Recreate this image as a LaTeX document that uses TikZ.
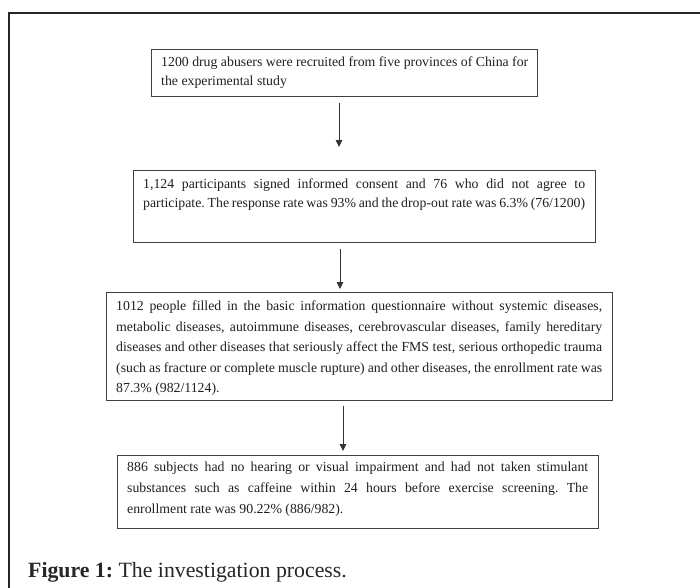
\documentclass[tikz,border=0pt]{standalone}
\usepackage{fontspec}
\setmainfont{Liberation Serif}
\usetikzlibrary{arrows.meta}
\frenchspacing
\newcommand\jline[2]{\hbox to #1{\spaceskip=0.25em plus 1em minus 0.14em\relax #2}}
\newcommand\lline[1]{\hbox{#1}}
\tikzset{
  boxnode/.style={draw=black!75, line width=1.1pt, inner sep=0pt, anchor=north west, fill=none},
  txt/.style={anchor=base west, inner sep=0pt, text=black!88, font=\fontsize{13.8}{16}\selectfont\frenchspacing},
  arr/.style={draw=black!80, line width=0.9pt, -{Triangle[width=6.5pt,length=7pt]}},
  frame/.style={draw=black!85, line width=1.3pt}
}
\begin{document}
\begin{tikzpicture}[x=1pt,y=-1pt]
\useasboundingbox (0,0) rectangle (700,587);
\draw[frame] (9,590) -- (9,13) -- (703,13);

\node[boxnode, minimum width=386pt, minimum height=47pt] (b1) at (151,49) {};
\node[boxnode, minimum width=462pt, minimum height=72pt] (b2) at (133,170) {};
\node[boxnode, minimum width=506pt, minimum height=108pt] (b3) at (106,292) {};
\node[boxnode, minimum width=481pt, minimum height=73pt] (b4) at (117,455) {};

\node[txt] (t1) at (161,66.5) {\vtop{\baselineskip=19pt
\lline{1200 drug abusers were recruited from five provinces of China for}
\lline{the experimental study}}};

\node[txt] (t2) at (143,188) {\vtop{\baselineskip=19pt
\jline{442pt}{1,124 participants signed informed consent and 76 who did not agree to}
\jline{442pt}{participate. The response rate was 93\% and the drop-out rate was 6.3\% (76/1200)}}};

\node[txt] (t3) at (116,310.5) {\vtop{\baselineskip=20.5pt
\jline{486pt}{1012 people filled in the basic information questionnaire without systemic diseases,}
\jline{486pt}{metabolic diseases, autoimmune diseases, cerebrovascular diseases, family hereditary}
\jline{486pt}{diseases and other diseases that seriously affect the FMS test, serious orthopedic trauma}
\jline{486pt}{(such as fracture or complete muscle rupture) and other diseases, the enrollment rate was}
\lline{87.3\% (982/1124).}}};

\node[txt] (t4) at (127,471) {\vtop{\baselineskip=21pt
\jline{461pt}{886 subjects had no hearing or visual impairment and had not taken stimulant}
\jline{461pt}{substances such as caffeine within 24 hours before exercise screening. The}
\lline{enrollment rate was 90.22\% (886/982).}}};

\coordinate (x1) at (339,0);
\coordinate (x2) at (340,0);
\coordinate (x3) at (343,0);
\draw[arr] ([yshift=-6pt]b1.south -| x1) -- ([yshift=23pt]b2.north -| x1);
\draw[arr] ([yshift=-6pt]b2.south -| x2) -- ([yshift=3pt]b3.north -| x2);
\draw[arr] ([yshift=-5pt]b3.south -| x3) -- ([yshift=4pt]b4.north -| x3);

\node[anchor=base west, inner sep=0pt, text=black!85, font=\fontsize{21.8}{25}\selectfont] (cap) at (28,577) {\textbf{Figure 1:} The investigation process.};
\end{tikzpicture}
\end{document}
